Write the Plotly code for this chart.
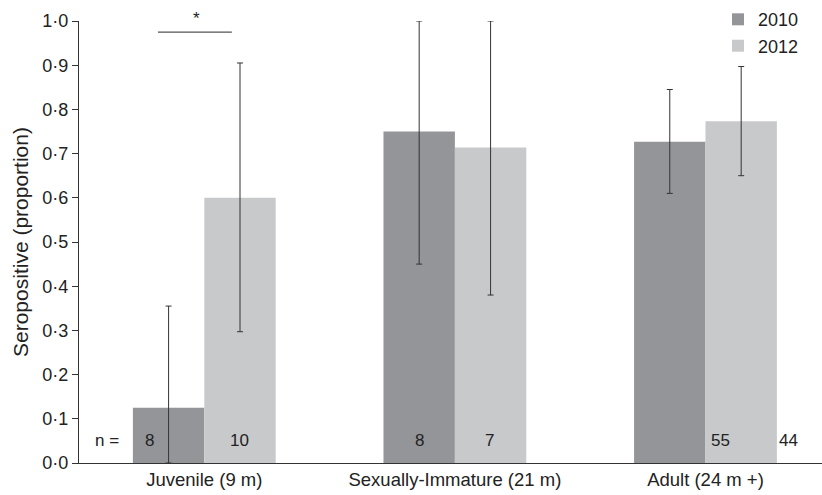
import plotly.graph_objects as go

categories = ["Juvenile (9 m)", "Sexually-Immature (21 m)", "Adult (24 m +)"]
years = ["2010", "2012"]
values_2010 = [0.125, 0.75, 0.727]
values_2012 = [0.60, 0.714, 0.773]
upper_2010 = [0.355, 1.0, 0.845]
lower_2010 = [0.0, 0.45, 0.61]
upper_2012 = [0.905, 1.0, 0.897]
lower_2012 = [0.297, 0.38, 0.65]
n_2010 = ["8", "8", "55"]
n_2012 = ["10", "7", "44"]
yticks = [0.0, 0.1, 0.2, 0.3, 0.4, 0.5, 0.6, 0.7, 0.8, 0.9, 1.0]
ytick_labels = [f"{v:.1f}".replace(".", "·") for v in yticks]

col_2010 = "#939598"
col_2012 = "#c8c9cb"
font = "Liberation Sans, Arial, sans-serif"
txt = "#222222"

xs = list(range(len(categories)))
fig = go.Figure()
for name, vals, up, lo, col in [("2010", values_2010, upper_2010, lower_2010, col_2010),
                                ("2012", values_2012, upper_2012, lower_2012, col_2012)]:
    fig.add_trace(go.Bar(
        x=xs, y=vals, name=name, marker=dict(color=col, line=dict(width=0)),
        error_y=dict(type="data", symmetric=False,
                     array=[u - v for u, v in zip(up, vals)],
                     arrayminus=[v - l for v, l in zip(vals, lo)],
                     color="#333333", thickness=1, width=3),
    ))

# n labels (offsets approximate the reference placement)
ann = [dict(x=-0.39, y=0.05, text="n =")]
offs_2010 = [-0.22, -0.14, 0.06]
offs_2012 = [0.14, 0.14, 0.33]
for i in xs:
    ann.append(dict(x=i + offs_2010[i], y=0.05, text=n_2010[i]))
    ann.append(dict(x=i + offs_2012[i], y=0.05, text=n_2012[i]))
annotations = [dict(xref="x", yref="y", showarrow=False,
                    font=dict(family=font, size=17, color=txt), **a) for a in ann]
annotations.append(dict(xref="x", yref="paper", x=-0.03, y=1.032, text="*", showarrow=False,
                        font=dict(family=font, size=17, color=txt)))
annotations.append(dict(xref="paper", yref="paper", x=-0.0794, y=0.5, textangle=-90,
                        xanchor="center", yanchor="middle",
                        text="Seropositive (proportion)", showarrow=False,
                        font=dict(family=font, size=21, color=txt)))

fig.add_shape(type="line", xref="x", yref="y", x0=-0.185, x1=0.11, y0=0.975, y1=0.975,
              line=dict(color="#555", width=1.3))

fig.update_layout(
    width=822, height=495,
    margin=dict(l=79, r=0, t=21, b=32),
    paper_bgcolor="white", plot_bgcolor="white",
    barmode="group", bargap=0.43, bargroupgap=0,
    font=dict(family=font, size=17, color=txt),
    showlegend=True,
    legend=dict(x=0.86, xanchor="left", y=1.045, yanchor="top",
                font=dict(family=font, size=18, color=txt),
                bgcolor="rgba(0,0,0,0)", itemwidth=30, tracegroupgap=0),
    annotations=annotations,
    xaxis=dict(range=[-0.5, 2.465], tickvals=xs, ticktext=categories,
               showline=True, linecolor="#333", linewidth=1.2, ticks="",
               showgrid=False, zeroline=False, automargin=False,
               tickfont=dict(family=font, size=18.5, color=txt)),
    yaxis=dict(range=[0, 1.0], tickvals=yticks, ticktext=ytick_labels,
               showline=True, linecolor="#333", linewidth=1.2, ticks="outside",
               ticklen=6, tickcolor="#333", showgrid=False, zeroline=False,
               automargin=False,
               tickfont=dict(family=font, size=18, color=txt)),
)

fig.write_html("out.html", config={"displayModeBar": False},
               post_script="document.body.style.margin='0';")
